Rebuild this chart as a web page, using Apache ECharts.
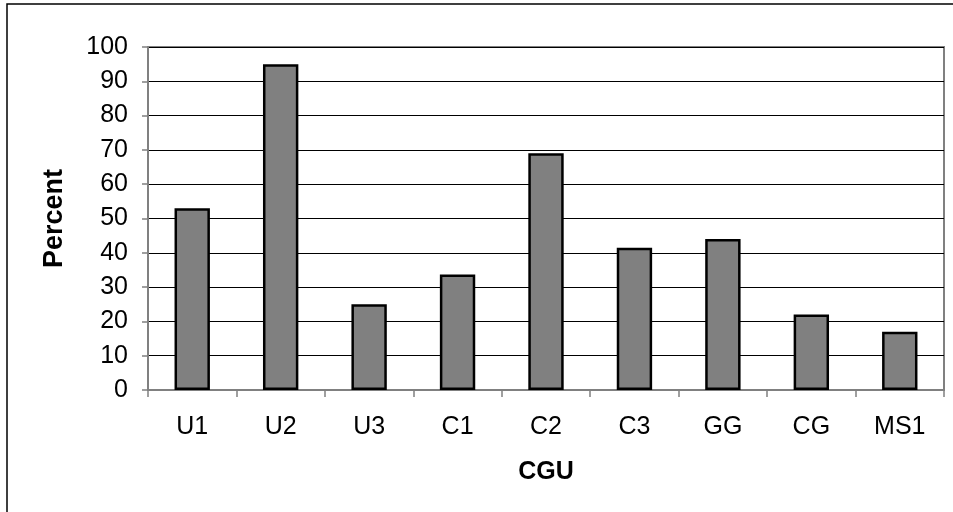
<!DOCTYPE html>
<html>
<head>
<meta charset="utf-8">
<script src="https://cdn.jsdelivr.net/npm/echarts@6/dist/echarts.min.js"></script>
<style>
  html, body { margin: 0; padding: 0; background: #fff; }
  #chart { width: 953px; height: 512px; }
</style>
</head>
<body>
<div id="chart"></div>
<script>
// values
var categories = ['U1', 'U2', 'U3', 'C1', 'C2', 'C3', 'GG', 'CG', 'MS1']
var percentValues = [53, 95, 25, 33.7, 69, 41.5, 44, 22, 17]
var yMin = 0
var yMax = 100
var yStep = 10

var chart = echarts.init(document.getElementById('chart'))

chart.setOption({
  animation: false,
  textStyle: { fontFamily: 'Liberation Sans, Arial, sans-serif' },
  // outer frame of the chart object
  graphic: [{
    type: 'rect',
    shape: { x: 7, y: 4, width: 1000, height: 1000 },
    style: { fill: 'none', stroke: '#000', lineWidth: 1.5 },
    silent: true
  }],
  grid: {
    left: 148,
    right: 9,
    top: 47,
    bottom: 122,
    show: true,
    borderColor: '#808080',
    borderWidth: 2,
    backgroundColor: '#fff'
  },
  xAxis: {
    type: 'category',
    data: categories,
    name: 'CGU',
    nameLocation: 'middle',
    nameGap: 70,
    nameTextStyle: { fontSize: 25, fontWeight: 'bold', color: '#000' },
    axisLine: { lineStyle: { color: '#808080', width: 2 } },
    axisTick: { show: true, alignWithLabel: false, length: 7, lineStyle: { color: '#808080', width: 1.5 } },
    axisLabel: { fontSize: 25, color: '#000', margin: 25 },
    splitLine: { show: false }
  },
  yAxis: {
    type: 'value',
    min: yMin,
    max: yMax,
    interval: yStep,
    name: 'Percent',
    nameLocation: 'middle',
    nameGap: 80,
    nameTextStyle: { fontSize: 27, fontWeight: 'bold', color: '#000' },
    axisLine: { show: true, lineStyle: { color: '#808080', width: 2 } },
    axisTick: { show: true, length: 6, lineStyle: { color: '#808080', width: 1.5 } },
    axisLabel: { fontSize: 25, color: '#000', margin: 20 },
    splitLine: { show: true, lineStyle: { color: '#000', width: 1 } }
  },
  series: [{
    type: 'bar',
    data: percentValues,
    barWidth: '40%',
    itemStyle: {
      color: '#808080',
      borderColor: '#000',
      borderWidth: 2.5
    }
  }]
})
</script>
</body>
</html>
